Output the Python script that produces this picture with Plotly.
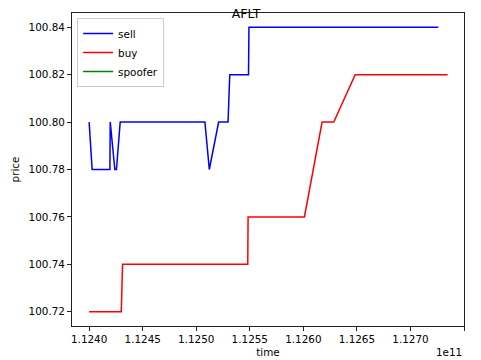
import plotly.graph_objects as go

sell_t = [1.12400e11, 1.124028e11, 1.124194e11, 1.124197e11, 1.124240e11, 1.124255e11,
          1.124290e11, 1.125081e11, 1.125122e11, 1.125209e11, 1.125297e11, 1.125313e11,
          1.125488e11, 1.125492e11, 1.127260e11]
sell_p = [100.80, 100.78, 100.78, 100.80, 100.78, 100.78,
          100.80, 100.80, 100.78, 100.80, 100.80, 100.82,
          100.82, 100.84, 100.84]

buy_t = [1.12400e11, 1.124300e11, 1.124312e11, 1.125481e11, 1.125484e11, 1.126010e11,
         1.126175e11, 1.126284e11, 1.126484e11, 1.127347e11]
buy_p = [100.72, 100.72, 100.74, 100.74, 100.76, 100.76,
         100.80, 100.80, 100.82, 100.82]

spoofer_t = []
spoofer_p = []

x_tick_vals = [1.1240e11, 1.1245e11, 1.1250e11, 1.1255e11, 1.1260e11, 1.1265e11, 1.1270e11, 1.1275e11]
x_tick_text = ["1.1240", "1.1245", "1.1250", "1.1255", "1.1260", "1.1265", "1.1270", "1.1275"]
y_tick_vals = [100.72, 100.74, 100.76, 100.78, 100.80, 100.82, 100.84]
y_tick_text = ["100.72", "100.74", "100.76", "100.78", "100.80", "100.82", "100.84"]

FONT = "DejaVu Sans"
fig = go.Figure()
fig.add_trace(go.Scatter(x=sell_t, y=sell_p, mode="lines", name="sell",
                         line=dict(color="blue", width=1.5)))
fig.add_trace(go.Scatter(x=buy_t, y=buy_p, mode="lines", name="buy",
                         line=dict(color="red", width=1.5)))
fig.add_trace(go.Scatter(x=spoofer_t if spoofer_t else [None], y=spoofer_p if spoofer_p else [None],
                         mode="lines", name="spoofer", showlegend=True,
                         line=dict(color="green", width=1.5)))

axis_common = dict(showline=True, mirror=True, linecolor="#222222", linewidth=1,
                   ticks="outside", ticklen=4, tickcolor="#222222", tickwidth=1,
                   showgrid=False, zeroline=False, automargin=False,
                   tickfont=dict(family=FONT, size=10.4, color="black"))

fig.update_layout(
    width=481, height=360,
    margin=dict(l=72, r=17, t=13, b=34, autoexpand=False),
    paper_bgcolor="white", plot_bgcolor="white",
    font=dict(family=FONT, size=10.4, color="black"),
    title=dict(text="AFLT", x=246/481, xref="container", xanchor="center",
               y=1 - 14/360, yref="container", yanchor="middle",
               font=dict(family=FONT, size=12.5, color="black")),
    xaxis=dict(range=[1.1240e11 - 1.6e7, 1.1275e11], tickvals=x_tick_vals, ticktext=x_tick_text,
               title=dict(text="time", font=dict(family=FONT, size=10.4), standoff=4),
               **axis_common),
    yaxis=dict(range=[100.714, 100.846], tickvals=y_tick_vals, ticktext=y_tick_text,
               title=dict(text="price", font=dict(family=FONT, size=10.4), standoff=6),
               **axis_common),
    legend=dict(x=0.013, y=0.984, xanchor="left", yanchor="top",
                bgcolor="rgba(255,255,255,0.8)", bordercolor="#cccccc", borderwidth=1,
                itemwidth=30,
                font=dict(family=FONT, size=10.4, color="black"), tracegroupgap=0),
    showlegend=True,
)
fig.add_annotation(text="1e11", xref="paper", yref="paper", x=1, y=0, yshift=-26,
                   xanchor="right", yanchor="middle", showarrow=False,
                   font=dict(family=FONT, size=10.4, color="black"))

fig.write_html("out.html", config={"displayModeBar": False},
               post_script="document.body.style.margin='0';document.body.style.overflow='hidden';")
